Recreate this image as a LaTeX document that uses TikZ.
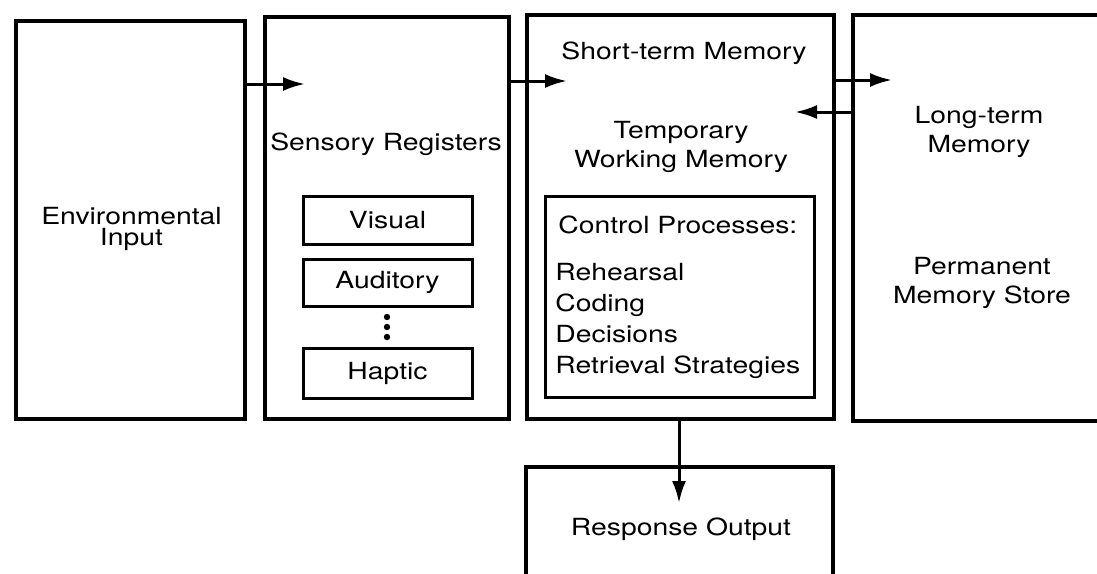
\documentclass[tikz,border=0pt]{standalone}
\usepackage{fontspec}
\setmainfont[FakeStretch=1.2]{TeX Gyre Heros}
\usepackage{tikz}
\usetikzlibrary{positioning}
\usetikzlibrary{arrows.meta}

\tikzset{
	bigbox/.style={draw, line width=2.25pt, inner sep=0pt},
	regbox/.style={draw, line width=1.5pt, inner sep=0pt, minimum width=84.5pt},
	arr/.style={line width=1.5pt, -{Latex[length=11pt,width=7pt]}},
	lbl/.style={font=\fontsize{11.8}{14.5}\selectfont, align=center, inner sep=0pt}
}

\begin{document}
\begin{tikzpicture}[x=0.5pt,y=-0.5pt]
	\useasboundingbox (0,0) rectangle (1097,573);
	\clip (0,0) rectangle (1097,573);
	% Main Stores %
	\node [bigbox, minimum width=114.5pt, minimum height=199pt] (env) at (130.5,220) {};
	\node [bigbox, minimum width=122pt, minimum height=201pt] (sens) at (387,218) {};
	\node [bigbox, minimum width=153.5pt, minimum height=202pt] (stm) at (680.5,217) {};
	\node [bigbox, minimum width=133.5pt, minimum height=203pt] (ltm) at (986.5,218) {};
	\node [bigbox, minimum width=153.5pt, minimum height=76.5pt] (resp) at (679.5,543.5) {};
	% Registers %
	\node [regbox, minimum height=24pt, lbl] (visual) at (387.5,220) {Visual};
	\node [regbox, minimum height=23.5pt, lbl] (auditory) at (387.5,282.5) {Auditory};
	\node [regbox, minimum height=25pt, lbl] (haptic) at (387.5,373) {Haptic};
	\fill (387,317) circle (1.6pt);
	\fill (387,327) circle (1.6pt);
	\fill (387,337) circle (1.6pt);
	% Control Processes %
	\node [regbox, minimum width=134.5pt, minimum height=100.5pt] (ctrl) at (679.5,296.5) {};
	\node [lbl, anchor=base west] (ctrltitle) at (558,233) {Control Processes:};
	\node [lbl, anchor=base west, align=left, font=\fontsize{11.8}{15.5}\selectfont] (ctrllist) at (555,373) {Rehearsal\\Coding\\Decisions\\Retrieval Strategies};
	% Labels %
	\node [lbl, anchor=base, font=\fontsize{11.8}{10.5}\selectfont] (envlbl) at (131.5,245) {Environmental\\Input};
	\node [lbl, anchor=base] (senslbl) at (386,150) {Sensory Registers};
	\node [lbl, anchor=base] (stmlbl) at (684,59) {Short-term Memory};
	\node [lbl, anchor=base] (twmlbl) at (681,167) {Temporary\\Working Memory};
	\node [lbl, anchor=base] (ltmlbl) at (979,152) {Long-term\\Memory};
	\node [lbl, anchor=base] (pmslbl) at (982,303) {Permanent\\Memory Store};
	\node [lbl, anchor=base] (resplbl) at (681,535) {Response Output};
	% Arrows %
	\coordinate (sensin) at (305,84);
	\coordinate (stmin) at (567,81);
	\coordinate (ltmin) at (892,80);
	\coordinate (stmback) at (795,112);
	\coordinate (respin) at (679,503);
	\draw [arr] (env.east |- sensin) -- (sensin);
	\draw [arr] (sens.east |- stmin) -- (stmin);
	\draw [arr] (stm.east |- ltmin) -- (ltmin);
	\draw [arr] (ltm.west |- stmback) -- (stmback);
	\draw [arr] (stm.south -| respin) -- (respin);
\end{tikzpicture}
\end{document}
